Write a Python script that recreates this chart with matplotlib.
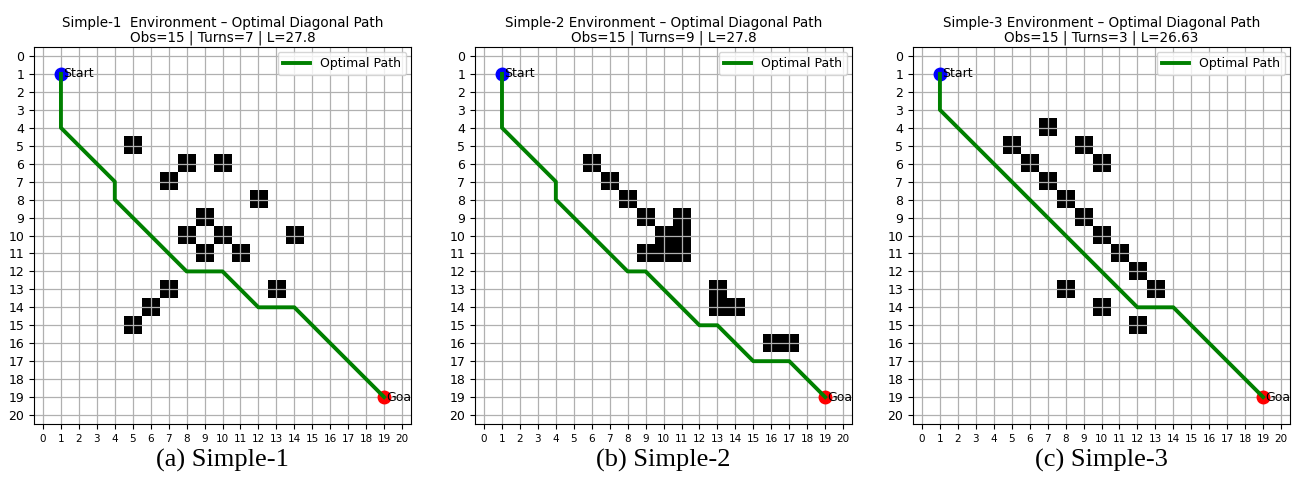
import matplotlib.pyplot as plt
import numpy as np

GRID_N = 21

names = ["Simple-1", "Simple-2", "Simple-3"]
captions = ["(a) Simple-1", "(b) Simple-2", "(c) Simple-3"]
titles = [
    "Simple-1  Environment – Optimal Diagonal Path\nObs=15 | Turns=7 | L=27.8",
    "Simple-2 Environment – Optimal Diagonal Path\nObs=15 | Turns=9 | L=27.8",
    "Simple-3 Environment – Optimal Diagonal Path\nObs=15 | Turns=3 | L=26.63",
]

# obstacle cells (x, y)
obs_1 = [(5, 5), (8, 6), (10, 6), (7, 7), (12, 8), (9, 9), (8, 10), (10, 10),
         (14, 10), (9, 11), (11, 11), (7, 13), (13, 13), (6, 14), (5, 15)]
obs_2 = [(6, 6), (7, 7), (8, 8), (9, 9), (11, 9), (10, 10), (11, 10), (9, 11),
         (10, 11), (11, 11), (13, 13), (13, 14), (14, 14), (16, 16), (17, 16)]
obs_3 = [(7, 4), (5, 5), (9, 5), (6, 6), (10, 6), (7, 7), (8, 8), (9, 9),
         (10, 10), (11, 11), (12, 12), (13, 13), (8, 13), (10, 14), (12, 15)]

# path waypoints (x, y)
path_1 = [(1, 1), (1, 4), (4, 7), (4, 8), (8, 12), (10, 12), (12, 14), (14, 14), (19, 19)]
path_2 = [(1, 1), (1, 4), (4, 7), (4, 8), (8, 12), (9, 12), (12, 15), (13, 15),
          (15, 17), (17, 17), (19, 19)]
path_3 = [(1, 1), (1, 3), (12, 14), (14, 14), (19, 19)]

start = (1, 1)
goal = (19, 19)

obstacles = [obs_1, obs_2, obs_3]
paths = [path_1, path_2, path_3]

fig = plt.figure(figsize=(12.93, 4.82), dpi=100)
lefts = [0.0263, 0.3674, 0.7061]

for i in range(3):
    ax = fig.add_axes([lefts[i], 0.1203, 0.2916, 0.7822])
    grid = np.zeros((GRID_N, GRID_N))
    for (x, y) in obstacles[i]:
        grid[y, x] = 1
    ax.imshow(grid, cmap="gray_r", vmin=0, vmax=1, origin="upper",
              interpolation="nearest", aspect="auto")

    px = [p[0] for p in paths[i]]
    py = [p[1] for p in paths[i]]
    ax.plot(px, py, color="green", lw=2.8, label="Optimal Path", zorder=3)

    ax.plot(start[0], start[1], "o", color="blue", ms=9, zorder=2)
    ax.plot(goal[0], goal[1], "o", color="red", ms=9, zorder=2)
    ax.text(start[0] + 0.1, start[1], "Start", va="center", fontsize=9, zorder=4)
    ax.text(goal[0] + 0.1, goal[1], "Goal", va="center", fontsize=9, zorder=4,
            clip_on=True)

    ax.set_xticks(range(GRID_N))
    ax.set_yticks(range(GRID_N))
    ax.tick_params(axis="x", labelsize=7.5)
    ax.tick_params(axis="y", labelsize=9)
    ax.set_xlim(-0.5, GRID_N - 0.5)
    ax.set_ylim(GRID_N - 0.5, -0.5)
    ax.grid(True, color="#b0b0b0", lw=0.9)
    ax.set_title(titles[i], fontsize=9.75, pad=4, linespacing=1.0)
    ax.legend(loc="upper right", fontsize=9, handlelength=2.2, borderaxespad=0.4)

    fig.text(lefts[i] + 0.2916 / 2, 0.045, captions[i], ha="center", va="center",
             fontsize=19, family="Liberation Serif")

fig.savefig("out.png", dpi=100)
